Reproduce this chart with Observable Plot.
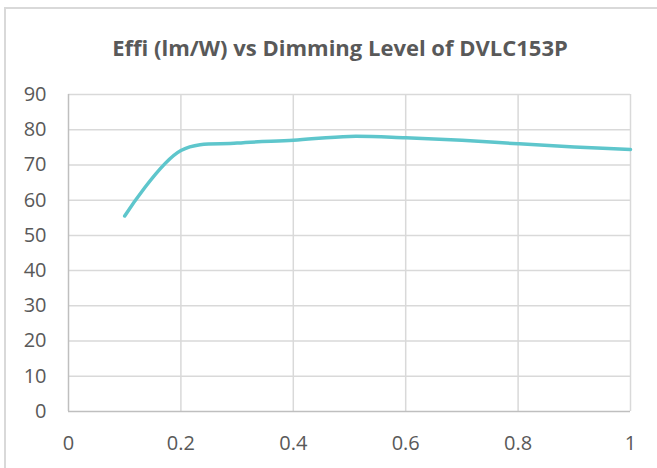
<!DOCTYPE html>
<html>
<head>
<meta charset="utf-8">
<script src="https://cdn.jsdelivr.net/npm/d3@7"></script>
<script src="https://cdn.jsdelivr.net/npm/@observablehq/plot@0.6"></script>
<style>
  html, body { margin: 0; padding: 0; background: #fff; }
  #wrap { position: relative; width: 657px; height: 468px; overflow: hidden; font-family: "Open Sans", sans-serif; }
  #frame { position: absolute; left: 4px; top: 7px; width: 700px; height: 500px; border-left: 2px solid #d9d9d9; border-top: 2px solid #d9d9d9; }
  #title { position: absolute; left: 0; width: 680px; top: 31px; text-align: center; font-weight: 700; font-size: 22px; color: #595959; line-height: 32px; }
  #chart { position: absolute; left: 0; top: 0; }
</style>
</head>
<body>
<div id="wrap">
  <div id="frame"></div>
  <div id="title">Effi (lm/W) vs Dimming Level of DVLC153P</div>
  <div id="chart"></div>
</div>
<script>
const dimming = [0.1, 0.2, 0.3, 0.4, 0.5, 0.6, 0.7, 0.8, 0.9, 1.0];
const effi = [55.5, 74.1, 76.2, 77.0, 78.1, 77.7, 77.0, 76.0, 75.1, 74.4];
const xTicks = [0, 0.2, 0.4, 0.6, 0.8, 1];
const yTicks = [0, 10, 20, 30, 40, 50, 60, 70, 80, 90];

const data = dimming.map((d, i) => ({x: d, y: effi[i]}));

const plot = Plot.plot({
  width: 657,
  height: 468,
  marginLeft: 68,
  marginRight: 27,
  marginTop: 94,
  marginBottom: 57,
  style: {background: "transparent", fontFamily: "Open Sans, sans-serif", fontSize: "20px", color: "#595959", overflow: "visible"},
  x: {domain: [0, 1], ticks: xTicks, tickFormat: d => String(d), tickSize: 0, tickPadding: 24, label: null},
  y: {domain: [0, 90], ticks: yTicks, tickFormat: d => String(d), tickSize: 0, tickPadding: 22, label: null},
  marks: [
    Plot.gridX(xTicks.filter(d => d > 0), {stroke: "#d9d9d9", strokeOpacity: 1, strokeWidth: 1.5}),
    Plot.gridY(yTicks.filter(d => d > 0), {stroke: "#d9d9d9", strokeOpacity: 1, strokeWidth: 1.5}),
    Plot.ruleX([0], {stroke: "#bfbfbf", strokeWidth: 1.5}),
    Plot.ruleY([0], {stroke: "#bfbfbf", strokeWidth: 1.5}),
    Plot.line(data, {x: "x", y: "y", stroke: "#5ec6cc", strokeWidth: 3.5, curve: "catmull-rom", strokeLinecap: "round"})
  ]
});
document.getElementById("chart").appendChild(plot);
</script>
</body>
</html>
